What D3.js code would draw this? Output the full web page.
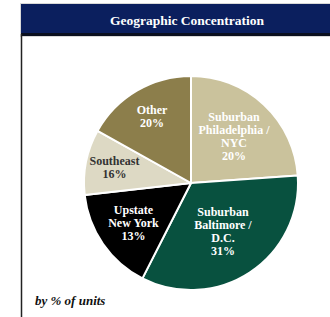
<!DOCTYPE html>
<html><head><meta charset="utf-8">
<script src="https://cdn.jsdelivr.net/npm/d3@7"></script>
<style>html,body{margin:0;padding:0;background:#fff;}</style>
</head><body>
<svg id="c" width="330" height="317"></svg>
<script>
// Data
const categories = ["Suburban Philadelphia / NYC", "Suburban Baltimore / D.C.", "Upstate New York", "Southeast", "Other"];
const labelLines = [["Suburban","Philadelphia /","NYC"],["Suburban","Baltimore /","D.C."],["Upstate","New York"],["Southeast"],["Other"]];
const percentLabels = [20, 31, 13, 16, 20];
// slice sizes as drawn in the picture (share of the circle, %)
const sliceShares = [23.9, 33.6, 15.7, 9.9, 16.9];
const colors = ["#cac29c", "#08513f", "#000000", "#ddd9c4", "#8c7e4b"];
const textColors = ["#ffffff", "#ffffff", "#ffffff", "#333333", "#ffffff"];
const labelRadius = [63, 58, 70, 78, 77];
const title = "Geographic Concentration";
const note = "by % of units";

const svg = d3.select("#c");
const W = 330, H = 317;

// frame
svg.append("rect").attr("x", 20).attr("y", 3).attr("width", 312).attr("height", 34).attr("fill", "#d9d9d9");
svg.append("rect").attr("x", 21).attr("y", 4).attr("width", 312).attr("height", 30).attr("fill", "#0b1f5e");
svg.append("rect").attr("x", 21).attr("y", 33).attr("width", 312).attr("height", 3).attr("fill", "#0a0f1f");
svg.append("line").attr("x1", 21.5).attr("x2", 21.5).attr("y1", 34).attr("y2", H).attr("stroke", "#222").attr("stroke-width", 1.5);

svg.append("text").attr("x", 187).attr("y", 25).attr("text-anchor", "middle")
  .attr("font-family", "Liberation Serif, Times New Roman, serif").attr("font-weight", "bold")
  .attr("font-size", 13.5).attr("fill", "#fff").text(title);

// pie
const cx = 191, cy = 183, R = 107;
const data = categories.map((c, i) => ({cat: c, share: sliceShares[i], pct: percentLabels[i], i}));
const pie = d3.pie().sort(null).value(d => d.share).startAngle(0).endAngle(2 * Math.PI);
const arcs = pie(data);
const arc = d3.arc().innerRadius(0).outerRadius(R);
const g = svg.append("g").attr("transform", `translate(${cx},${cy})`);
g.selectAll("path").data(arcs).join("path")
  .attr("d", arc).attr("fill", d => colors[d.data.i])
  .attr("stroke", "#fff").attr("stroke-width", 2).attr("stroke-linejoin", "round");

const lh = 13;
arcs.forEach(a => {
  const i = a.data.i;
  const mid = (a.startAngle + a.endAngle) / 2;
  const lx = labelRadius[i] * Math.sin(mid), ly = -labelRadius[i] * Math.cos(mid);
  const lines = labelLines[i].concat([a.data.pct + "%"]);
  const n = lines.length;
  const t = g.append("text").attr("text-anchor", "middle")
    .attr("font-family", "Liberation Serif, Times New Roman, serif").attr("font-weight", "bold")
    .attr("font-size", 12).attr("fill", textColors[i]);
  lines.forEach((s, k) => {
    t.append("tspan").attr("x", lx).attr("y", ly + (k - (n - 1) / 2) * lh + 4).text(s);
  });
});

svg.append("text").attr("x", 35).attr("y", 305)
  .attr("font-family", "Liberation Serif, Times New Roman, serif").attr("font-weight", "bold").attr("font-style", "italic")
  .attr("font-size", 13).attr("fill", "#111").text(note);
</script>
</body></html>
